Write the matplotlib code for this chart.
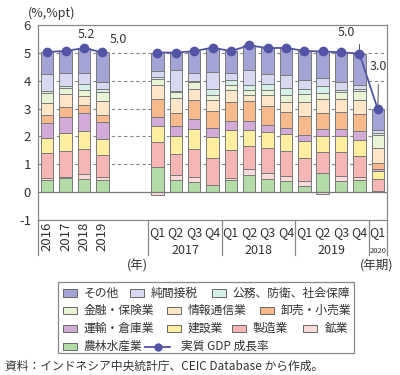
import numpy as np
import matplotlib
matplotlib.use("Agg")
import matplotlib.pyplot as plt
from matplotlib.patches import Rectangle
from matplotlib.lines import Line2D

plt.rcParams['font.family'] = ['Noto Sans CJK JP', 'DejaVu Sans']

# ---------------- data ----------------
annual_labels = ["2016", "2017", "2018", "2019"]
quarter_labels = ["Q1", "Q2", "Q3", "Q4", "Q1", "Q2", "Q3", "Q4", "Q1", "Q2", "Q3", "Q4", "Q1"]
year_groups = ["2017", "2018", "2019", "2020"]

categories = ["農林水産業", "鉱業", "製造業", "建設業", "運輸・倉庫業", "卸売・小売業",
              "情報通信業", "金融・保険業", "公務、防衛、社会保障", "純間接税", "その他"]

# columns: 2016,2017,2018,2019 | 17Q1..17Q4, 18Q1..18Q4, 19Q1..19Q4, 20Q1
agri      = [0.43, 0.49, 0.48, 0.45,  0.90, 0.45, 0.37, 0.25,  0.43, 0.63, 0.48, 0.40,  0.22, 0.70, 0.40, 0.45,  0.02]
mining    = [0.08, 0.06, 0.18, 0.09, -0.12, 0.17, 0.18, 0.02,  0.09, 0.19, 0.21, 0.17,  0.17, -0.07, 0.17, 0.09, 0.01]
manuf     = [0.90, 0.92, 0.90, 0.81,  0.90, 0.76, 1.01, 0.96,  0.98, 0.84, 0.90, 0.90,  0.84, 0.73, 0.86, 0.75,  0.45]
constr    = [0.52, 0.65, 0.63, 0.56,  0.59, 0.65, 0.69, 0.74,  0.72, 0.56, 0.58, 0.60,  0.60, 0.57, 0.58, 0.59,  0.27]
transport = [0.55, 0.58, 0.66, 0.61,  0.31, 0.35, 0.36, 0.33,  0.33, 0.33, 0.23, 0.24,  0.21, 0.26, 0.26, 0.30,  0.09]
trade     = [0.29, 0.36, 0.27, 0.26,  0.63, 0.47, 0.68, 0.62,  0.69, 0.72, 0.71, 0.57,  0.71, 0.59, 0.60, 0.61,  0.19]
info      = [0.42, 0.47, 0.34, 0.50,  0.51, 0.52, 0.42, 0.40,  0.41, 0.23, 0.39, 0.36,  0.49, 0.50, 0.48, 0.50,  0.56]
finance   = [0.36, 0.20, 0.20, 0.30,  0.23, 0.22, 0.24, 0.18,  0.18, 0.16, 0.15, 0.26,  0.29, 0.21, 0.24, 0.33,  0.46]
public    = [0.08, 0.07, 0.22, 0.12,  0.06, 0.03, 0.03, 0.21,  0.18, 0.20, 0.24, 0.24,  0.18, 0.24, 0.09, 0.09,  0.08]
tax       = [0.62, 0.48, 0.38, 0.26,  0.21, 0.75, 0.28, 0.60,  0.27, 0.52, 0.36, 0.46,  0.33, 0.28, 0.27, 0.15,  0.09]
other     = [0.78, 0.79, 0.91, 1.06,  0.67, 0.64, 0.80, 0.88,  0.78, 0.89, 0.92, 0.98,  1.03, 0.97, 1.07, 1.11,  0.75]

gdp_annual = [5.03, 5.07, 5.17, 5.02]
gdp_quarter = [5.01, 5.01, 5.06, 5.19, 5.06, 5.27, 5.17, 5.18, 5.07, 5.05, 5.02, 4.97, 2.97]

series = [agri, mining, manuf, constr, transport, trade, info, finance, public, tax, other]
colors = ["#b3dca8", "#fbdada", "#f7b6b6", "#fdeea0", "#d3abd9", "#f8b98d",
          "#fde5c8", "#e9f4d6", "#d6efe8", "#d8d8f0", "#a4a3d6"]

# ---------------- layout ----------------
W, H = 400, 375
fig = plt.figure(figsize=(W / 100, H / 100), dpi=100)
L, R, T, B = 38, 387, 25, 220
ax = fig.add_axes([L / W, 1 - B / H, (R - L) / W, (B - T) / H])

x_annual = np.arange(4)
x_quarter = np.arange(6, 19)
xs = np.concatenate([x_annual, x_quarter])

bw = 0.68
pos_bottom = np.zeros(len(xs))
neg_bottom = np.zeros(len(xs))
for vals, col in zip(series, colors):
    v = np.array(vals)
    bottoms = np.where(v >= 0, pos_bottom, neg_bottom)
    ax.bar(xs, v, bottom=bottoms, width=bw, color=col, edgecolor="#7a7a7a",
           linewidth=0.7, zorder=2)
    pos_bottom = pos_bottom + np.where(v >= 0, v, 0)
    neg_bottom = neg_bottom + np.where(v < 0, v, 0)

line_col = "#5454a6"
ax.plot(x_annual, gdp_annual, color=line_col, lw=1.3, marker="o", ms=6, zorder=4)
ax.plot(x_quarter, gdp_quarter, color=line_col, lw=1.3, marker="o", ms=6, zorder=4)

ax.set_xlim(-0.5, 18.5)
ax.set_ylim(-1, 6)
ax.set_yticks(range(-1, 7))
ax.set_yticklabels([str(i) for i in range(-1, 7)], fontsize=9.5, color="#333333")
ax.tick_params(axis="y", length=0, pad=5)
ax.set_xticks([])
for yv in range(1, 6):
    ax.axhline(yv, color="#888888", lw=0.8, ls=(0, (3, 2.5)), zorder=1)
ax.axhline(0, color="#777777", lw=0.9, zorder=3)
for s in ax.spines.values():
    s.set_color("#888888")
    s.set_linewidth(0.9)

# extended separators below axis
ybot = -0.18
for xsep in [-0.5, 5.5, 9.5, 13.5, 17.5, 18.5]:
    ax.plot([xsep, xsep], [0, ybot], transform=ax.get_xaxis_transform(),
            color="#888888", lw=0.9, clip_on=False)

tr = ax.get_xaxis_transform()
for x, lab in zip(x_annual, annual_labels):
    ax.text(x, -0.085, lab, rotation=90, ha="center", va="center",
            fontsize=9.5, color="#333333", transform=tr)
for x, lab in zip(x_quarter, quarter_labels):
    ax.text(x, -0.062, lab, ha="center", va="center", fontsize=9,
            color="#333333", transform=tr)
group_centers = [7.5, 11.5, 15.5]
for xc, lab in zip(group_centers, year_groups[:3]):
    ax.text(xc, -0.155, lab, ha="center", va="center", fontsize=9,
            color="#333333", transform=tr)
ax.text(18, -0.16, year_groups[3], ha="center", va="center", fontsize=5.5,
        color="#333333", transform=tr)
ax.text(4.9, -0.235, "(年)", ha="center", va="center", fontsize=9,
        color="#333333", transform=tr)
ax.text(17.95, -0.235, "(年期)", ha="center", va="center", fontsize=9,
        color="#333333", transform=tr)

fig.text(28 / W, 1 - 13 / H, "(%,%pt)", ha="left", va="center",
         fontsize=9, color="#333333")

# annotations
ann_kw = dict(color="#555555", lw=0.7)
ax.annotate("5.2", xy=(2, gdp_annual[2]), xytext=(2.15, 5.65), fontsize=9,
            color="#333333", ha="center", va="center",
            arrowprops=dict(arrowstyle="-", **ann_kw, shrinkA=3, shrinkB=2))
ax.annotate("5.0", xy=(3, gdp_annual[3]), xytext=(3.9, 5.48), fontsize=9,
            color="#333333", ha="center", va="center",
            arrowprops=dict(arrowstyle="-", **ann_kw, shrinkA=8, shrinkB=2,
                            connectionstyle="angle,angleA=0,angleB=80,rad=0"))
ax.annotate("5.0", xy=(17, gdp_quarter[11]), xytext=(16.3, 5.72), fontsize=9,
            color="#333333", ha="center", va="center",
            arrowprops=dict(arrowstyle="-", **ann_kw, shrinkA=8, shrinkB=2,
                            connectionstyle="angle,angleA=0,angleB=90,rad=0"))
ax.annotate("3.0", xy=(18, gdp_quarter[12]), xytext=(18.05, 4.5), fontsize=9,
            color="#333333", ha="center", va="center",
            arrowprops=dict(arrowstyle="-", **ann_kw, shrinkA=6, shrinkB=2))

# ---------------- legend (manual, flow layout) ----------------
def fx(px):
    return px / W

def fy(py):
    return 1 - py / H

fig.patches.append(Rectangle((fx(58), fy(353)), fx(354) - fx(58), fy(281.5) - fy(353),
                             transform=fig.transFigure, fill=False,
                             edgecolor="#888888", lw=0.9))
cmap = dict(zip(categories, colors))
rows = [
    (293, [(62.7, "その他"), (130, "純間接税"), (211.7, "公務、防衛、社会保障")]),
    (310.5, [(62.7, "金融・保険業"), (166.7, "情報通信業"), (260, "卸売・小売業")]),
    (328.5, [(62.7, "運輸・倉庫業"), (166.7, "建設業"), (231.7, "製造業"), (303.3, "鉱業")]),
    (346.5, [(62.7, "農林水産業")]),
]
for yc, items in rows:
    for px, name in items:
        fig.patches.append(Rectangle((fx(px), fy(yc + 3.7)), 14 / W, 7.4 / H,
                                     transform=fig.transFigure, facecolor=cmap[name],
                                     edgecolor="#666666", lw=0.7))
        fig.text(fx(px + 21), fy(yc), name, ha="left", va="center",
                 fontsize=8.5, color="#333333")
fig.add_artist(Line2D([fx(145), fx(170)], [fy(346.5), fy(346.5)], color=line_col,
                      lw=1.3, marker=None, transform=fig.transFigure))
fig.add_artist(Line2D([fx(157.5)], [fy(346.5)], color=line_col, marker="o", ms=5,
                      transform=fig.transFigure))
fig.text(fx(181), fy(346.5), "実質 GDP 成長率", ha="left", va="center",
         fontsize=8.5, color="#333333")

fig.text(fx(5), fy(366.5), "資料：インドネシア中央統計庁、CEIC Database から作成。",
         ha="left", va="center", fontsize=8.5, color="#333333")

fig.savefig("out.png", dpi=100)
